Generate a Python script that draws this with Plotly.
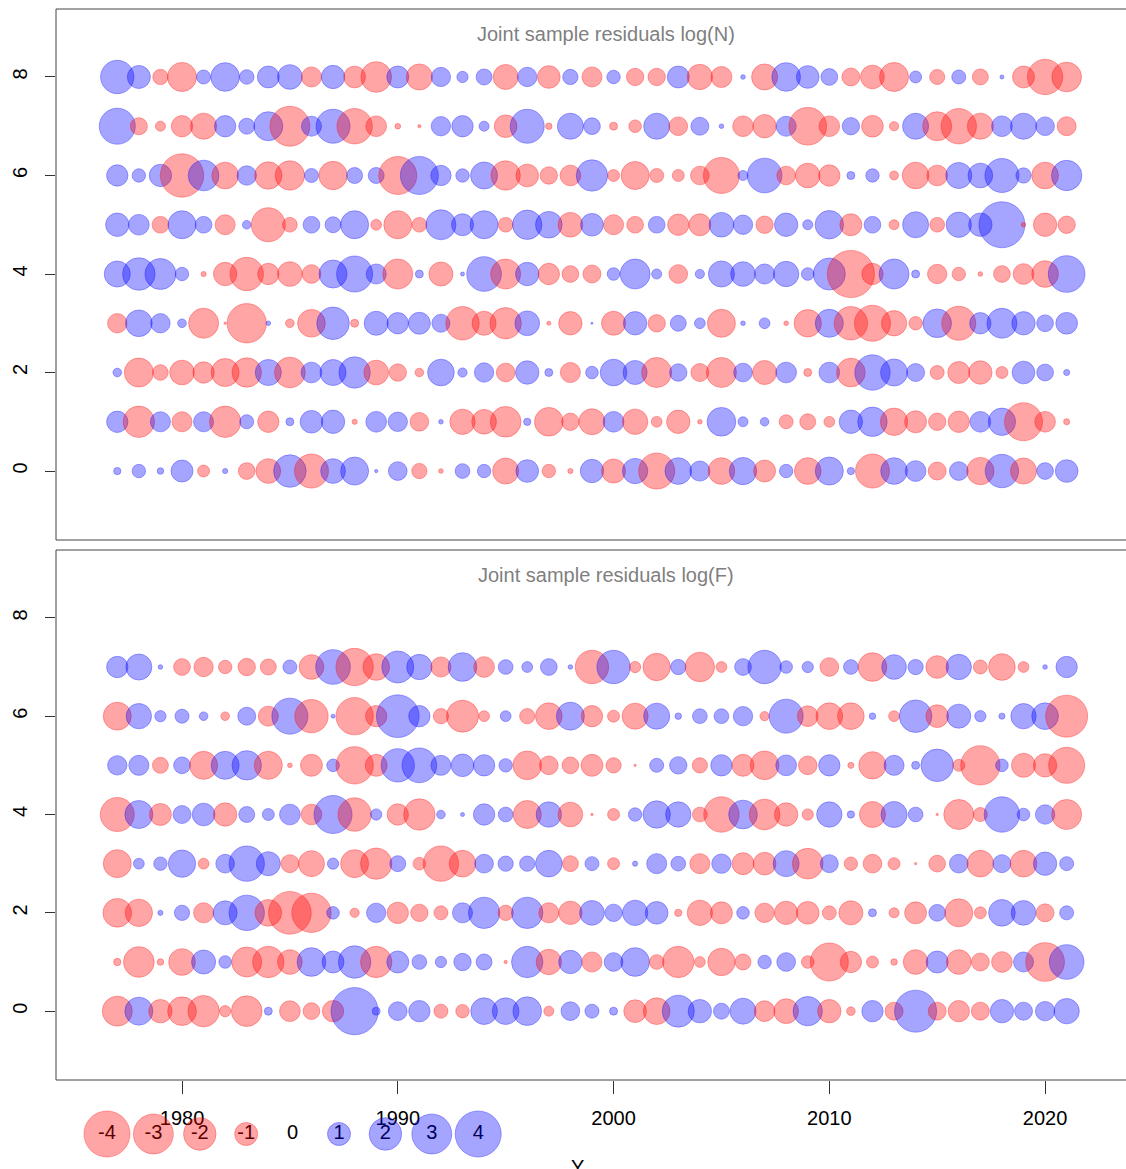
import plotly.graph_objects as go
import numpy as np

years = list(range(1977, 2022))

# Joint sample residuals log(N), ages 0..8 (rows), years 1977..2021
N_age0 = [0.10, 0.34, 0.08, 0.91, -0.27, 0.05, -0.53, -1.15, 2.0, -2.18, 1.15, 1.48, 0.02, 0.66, -0.44, -0.04, 0.41, 0.34, -1.28, 0.97, -0.34, -0.05, 1.03, -1.09, 1.21, -2.45, 1.34, 0.76, -1.34, 1.41, -0.91, 0.34, -1.34, 1.48, 0.10, -2.18, 1.34, 0.81, -0.61, 0.66, -1.41, 2.1, -1.28, 0.53, 0.97]
N_age1 = [0.86, -1.86, 0.76, -0.76, 0.76, -1.86, 0.37, -0.86, 0.12, 0.97, 1.03, -0.05, 0.81, 0.71, -0.66, 0.04, -1.21, -1.15, -1.78, 0.10, -1.55, -0.57, -1.28, 0.81, -1.21, -0.22, -1.03, -0.04, 1.55, 0.19, 0.14, -0.37, -0.48, -0.22, 1.03, 1.63, -1.41, -0.91, -0.57, -0.86, 0.81, 1.41, -2.73, -0.81, -0.07]
N_age2 = [0.14, -1.59, -0.46, -1.15, -0.86, -1.48, -1.63, 1.28, -1.78, 0.81, 1.28, 1.86, -1.15, -0.57, -0.14, 1.34, 0.16, 0.71, -0.66, 1.03, 0.12, -0.76, 0.30, 1.34, 1.09, -1.70, 0.57, -0.61, -1.70, 0.66, -1.09, 0.81, -0.12, 0.81, -1.55, 2.36, 1.38, 0.61, -0.37, -0.91, -1.03, -0.27, 0.97, 0.53, 0.07]
N_age3 = [-0.71, 1.34, 0.71, 0.14, -1.70, -0.01, -2.92, 0.04, -0.14, -1.45, 2.0, -0.12, 1.09, 0.86, 0.91, 0.61, -2.1, -1.09, -1.86, 1.15, -0.03, -1.03, 0.008, -1.09, 1.03, -0.57, 0.48, 0.22, -1.48, 0.04, 0.22, -0.04, -1.41, 1.48, -2.1, -2.45, -1.21, -0.34, 1.55, -2.18, 0.86, 1.70, 1.03, 0.53, 0.89]
N_age4 = [1.28, 2.0, 1.82, 0.34, -0.05, -1.03, -2.1, -0.86, -1.15, -0.66, 1.48, 2.45, 0.76, -1.70, 0.12, -1.09, 0.03, 2.27, -1.70, 1.03, -0.86, -0.53, -0.61, 0.30, 1.70, 0.19, -0.66, 0.16, 1.28, 1.15, 0.76, 1.21, 0.30, 1.94, -4.2, -0.86, 1.70, 0.12, -0.71, -0.34, -0.04, -0.53, -0.81, -1.34, 2.54]
N_age5 = [1.03, 0.81, -0.53, 1.48, 0.53, -0.76, 0.14, -2.18, -0.41, 0.53, 0.48, 1.48, -0.22, -1.48, -0.41, 1.70, 0.91, 1.48, -0.41, 1.63, 1.34, -1.15, 0.97, -0.76, -0.53, 0.53, -0.86, -0.91, 1.15, 0.71, -0.57, 1.03, 0.19, 1.52, -0.91, 0.53, -0.19, 1.28, -0.41, 1.21, 1.03, 4.0, -0.04, -1.03, -0.57]
N_age6 = [0.86, 0.34, 0.94, -3.55, 1.78, -1.34, 0.71, -1.41, -1.63, 0.37, -1.52, 0.48, 0.48, -2.73, 2.73, 0.78, 0.34, 1.38, -1.63, -0.97, -0.57, -0.81, 1.86, -0.27, -1.48, -0.37, -0.27, -0.66, -2.45, 0.19, 2.27, -0.66, -1.15, -0.86, 0.12, 0.34, -0.15, -1.34, -0.81, 1.28, 1.15, 2.18, 0.44, -1.34, 1.74]
N_age7 = [2.45, -0.55, -0.19, -0.86, -1.28, 0.86, 0.48, 1.59, -3.0, 0.76, 2.18, -2.36, -0.81, -0.06, -0.02, 0.71, 0.86, 0.19, -0.97, 2.18, -0.08, 1.28, 0.53, -0.12, -0.30, 1.28, -0.66, 0.61, 0.04, -0.81, -1.03, 0.76, -2.68, -0.81, 0.57, -0.89, -0.16, 1.28, -1.59, -2.36, -1.28, 0.81, 1.28, 0.66, -0.68]
N_age8 = [2.1, 1.0, -0.44, -1.6, 0.37, 1.55, 0.4, 0.9, 1.15, -0.76, 1.03, -0.89, -1.78, 0.91, -1.28, 0.7, 0.24, 0.48, -1.18, 0.71, -0.97, 0.44, -0.76, 0.34, -0.57, -0.57, 0.91, -1.21, -0.83, 0.04, -1.28, 1.55, 0.97, 0.53, -0.61, -1.06, -1.59, 0.27, -0.43, 0.37, -0.48, 0.03, -0.91, -2.36, -1.66]

# Joint sample residuals log(F), ages 0..7
F_age0 = [-1.70, 1.48, -1.03, -1.55, -1.86, -0.24, -1.78, 0.12, -0.81, -0.53, -0.86, 4.2, 0.12, 0.66, 0.86, -0.37, -0.34, 1.34, 1.34, 1.55, -0.19, 0.66, 0.37, 0.12, -0.97, -1.34, 1.94, 1.03, 0.48, 1.28, -0.81, -1.15, 1.63, -1.03, -0.14, 0.86, -0.61, 3.33, -0.61, -0.86, -0.61, 1.03, 0.61, 0.71, 1.21]
F_age1 = [-0.10, -1.78, -0.08, -1.34, 1.09, 0.30, -1.70, -1.86, -1.15, 1.55, 0.91, 2.0, -1.86, 0.91, 0.41, 0.24, 0.57, 0.48, -0.02, 1.86, -1.21, 1.03, -0.76, 0.66, 1.55, -0.41, -1.86, -0.22, -1.41, -0.48, 0.34, 0.66, -0.30, -2.73, -0.86, -0.27, -0.08, -1.15, 0.91, -1.15, -0.61, -0.81, 0.76, -2.83, 2.27]
F_age2 = [-1.55, -1.41, 0.05, 0.44, -0.76, 1.09, 2.36, -1.34, -3.44, -2.92, 0.30, -0.16, 0.71, -0.86, -0.57, -0.37, 0.76, 1.86, -0.44, 1.86, -0.76, -1.03, 1.15, 0.57, 1.21, 0.97, -0.10, -1.21, -0.91, 0.30, -0.71, -1.03, -0.97, -0.37, -1.09, 0.12, -0.19, -0.91, 0.53, -1.48, -0.27, 1.34, 1.15, -0.61, 0.37]
F_age3 = [-1.48, 0.22, 0.34, 1.41, -0.22, 0.66, 2.36, 1.09, -0.61, -1.28, 0.24, -1.48, -1.86, 0.48, -0.30, -2.36, -1.34, 0.66, 0.44, 0.44, 1.34, -0.48, 0.37, -0.27, 0.05, 0.76, 0.41, -0.76, 0.71, -0.91, -0.97, 1.28, -1.78, 0.61, -0.34, -0.66, -0.27, -0.01, -0.53, 0.66, -1.34, 0.61, -1.34, 1.03, 0.37]
F_age4 = [-2.18, 1.48, -0.91, 0.61, 0.97, -1.03, 0.48, 0.27, 0.81, -0.81, 2.73, -2.1, 0.24, -0.86, -1.86, 0.14, 0.03, 0.86, 0.41, -1.48, 1.21, -1.15, -0.01, -0.27, 0.34, 1.41, 1.21, -0.41, -2.36, 1.55, -1.78, -1.03, -0.24, 1.21, 0.10, -1.28, 1.28, 0.41, -0.01, -1.70, -0.37, 2.36, 0.30, 0.71, -1.70]
F_age5 = [0.71, 0.76, -0.48, 0.53, -1.48, 1.48, 1.63, -1.48, -0.04, -0.91, 0.30, -2.63, -0.91, 2.1, 2.27, 0.76, 0.97, 0.86, 0.34, -1.55, -0.66, -0.53, -0.91, -0.44, -0.01, 0.37, 0.57, -0.44, 0.86, -0.91, -1.55, 0.81, -0.66, 0.86, -0.07, -1.41, 0.76, 0.12, 2.0, -0.27, -2.92, 0.30, -1.09, -1.03, -2.45]
F_age6 = [-1.48, 1.21, 0.24, 0.37, 0.14, -0.14, 0.61, -0.76, 2.45, -2.1, 0.03, -2.63, -0.86, 3.44, 0.86, -0.44, -1.94, -0.22, 0.22, -0.44, -1.34, 1.48, -0.86, -0.27, -1.28, 1.28, 0.08, 0.41, 0.41, 0.71, -0.16, 2.18, -0.81, -1.34, -1.34, 0.08, -0.22, 2.0, -0.97, 1.09, 0.24, 0.07, 1.21, 1.34, -3.33]
F_age7 = [0.86, 1.28, 0.04, -0.53, -0.71, -0.34, -0.57, -0.48, 0.37, -1.15, 2.27, -2.63, -1.34, 1.94, 1.21, -0.76, 1.55, -0.81, 0.41, 0.22, 0.53, 0.04, -2.1, 2.1, -0.24, -1.41, 0.44, -1.63, -0.22, 0.53, 2.1, 0.30, 0.24, -0.66, 0.41, -1.55, 1.15, 0.44, -0.97, 1.21, -0.37, -1.34, -0.22, 0.04, 0.86]

N_rows = [N_age0, N_age1, N_age2, N_age3, N_age4, N_age5, N_age6, N_age7, N_age8]
F_rows = [F_age0, F_age1, F_age2, F_age3, F_age4, F_age5, F_age6, F_age7]

legend_vals = [-4, -3, -2, -1, 0, 1, 2, 3, 4]
x_ticks = [1980, 1990, 2000, 2010, 2020]
y_ticks = [0, 2, 4, 6, 8]

W, H = 1126, 1169
FONT = "Liberation Sans, Arial, Helvetica, sans-serif"
RED = "rgba(255,0,0,0.5)"
BLUE = "rgba(0,0,255,0.5)"
UNIT_D = 23.0  # diameter in px for |residual| = 1


def diam(v):
    return float(UNIT_D * np.sqrt(abs(v)))


def bubble_trace(rows, xa, ya):
    xs, ys, ss, cs = [], [], [], []
    for age, vals in enumerate(rows):
        for yr, v in zip(years, vals):
            xs.append(yr)
            ys.append(age)
            ss.append(diam(v))
            cs.append(RED if v < 0 else BLUE)
    return go.Scatter(
        x=xs, y=ys, mode="markers", xaxis=xa, yaxis=ya,
        marker=dict(size=ss, sizemode="diameter", color=cs,
                    line=dict(color=cs, width=1)),
        hoverinfo="skip", showlegend=False,
    )


fig = go.Figure()
fig.add_trace(bubble_trace(N_rows, "x", "y"))
fig.add_trace(bubble_trace(F_rows, "x2", "y2"))

# legend (pixel overlay axes)
leg_x0, leg_dx, leg_y = 107, 46.4, 1134
lx = [leg_x0 + i * leg_dx for i in range(len(legend_vals))]
ly = [leg_y] * len(legend_vals)
fig.add_trace(go.Scatter(
    x=lx, y=ly, mode="text", text=[str(v) for v in legend_vals],
    textfont=dict(family=FONT, size=20, color="black"),
    xaxis="x3", yaxis="y3", cliponaxis=False, hoverinfo="skip", showlegend=False))
fig.add_trace(go.Scatter(
    x=lx, y=ly, mode="markers", xaxis="x3", yaxis="y3", cliponaxis=False,
    marker=dict(size=[diam(v) for v in legend_vals], sizemode="diameter",
                color=[RED if v < 0 else BLUE for v in legend_vals],
                line=dict(color=[RED if v < 0 else BLUE for v in legend_vals], width=1)),
    hoverinfo="skip", showlegend=False))

x_range = [1974.16, 2023.75]
y_range = [-1.40, 9.38]
xdom = [56 / W, 1.0]
top_dom = [1 - 540 / H, 1 - 9 / H]
bot_dom = [1 - 1080 / H, 1 - 550 / H]

yaxis_common = dict(range=y_range, tickvals=y_ticks, ticks="outside", ticklen=10,
                    tickcolor="#333", tickangle=-90, showgrid=False, zeroline=False,
                    showline=False, ticklabelstandoff=10,
                    tickfont=dict(family=FONT, size=20, color="black"))

fig.update_layout(
    width=W, height=H, margin=dict(l=0, r=0, t=0, b=0),
    paper_bgcolor="white", plot_bgcolor="rgba(0,0,0,0)",
    xaxis=dict(domain=xdom, range=x_range, anchor="y", showticklabels=False, ticks="",
               showgrid=False, zeroline=False, showline=False),
    yaxis=dict(domain=top_dom, anchor="x", **yaxis_common),
    xaxis2=dict(domain=xdom, range=x_range, anchor="y2", tickvals=x_ticks, ticks="outside",
                ticklen=13, tickcolor="#333", showgrid=False, zeroline=False, showline=False,
                ticklabelstandoff=7,
                tickfont=dict(family=FONT, size=20, color="black")),
    yaxis2=dict(domain=bot_dom, anchor="x2", **yaxis_common),
    xaxis3=dict(domain=[0, 1], range=[0, W], visible=False, anchor="y3"),
    yaxis3=dict(domain=[0, 1], range=[H, 0], visible=False, anchor="x3"),
    showlegend=False,
)

# panel boxes
for dom in (top_dom, bot_dom):
    fig.add_shape(type="rect", xref="paper", yref="paper", x0=56 / W, x1=1.004,
                  y0=dom[0], y1=dom[1], line=dict(color="#444", width=1))

fig.add_annotation(text="Joint sample residuals log(N)", xref="paper", yref="paper",
                   x=605.5 / W, y=1 - 34 / H, showarrow=False, xanchor="center", yanchor="middle",
                   font=dict(family=FONT, size=20, color="#7f7f7f"))
fig.add_annotation(text="Joint sample residuals log(F)", xref="paper", yref="paper",
                   x=605.5 / W, y=1 - 575 / H, showarrow=False, xanchor="center", yanchor="middle",
                   font=dict(family=FONT, size=20, color="#7f7f7f"))
fig.add_annotation(text="Y", xref="paper", yref="paper", x=577 / W, y=1 - 1154 / H,
                   showarrow=False, xanchor="center", yanchor="top",
                   font=dict(family=FONT, size=20, color="black"))

fig.write_html("out.html", config={"displayModeBar": False},
               post_script="document.body.style.margin='0px';document.body.style.overflow='hidden';")
